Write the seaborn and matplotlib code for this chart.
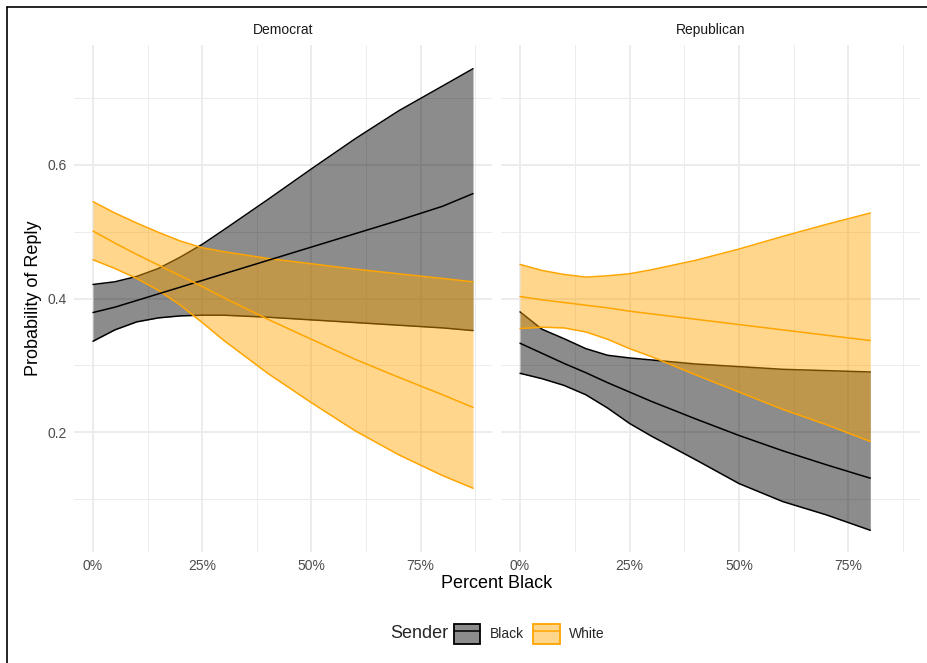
import numpy as np
import pandas as pd
import matplotlib
matplotlib.use("Agg")
import matplotlib.pyplot as plt
import seaborn as sns
from matplotlib.lines import Line2D
from matplotlib.patches import Patch
from matplotlib.ticker import FuncFormatter, MultipleLocator

# Predicted probability of reply by share of Black residents, with 95% bands
dem_pct = [0.0, 0.05, 0.10, 0.15, 0.20, 0.25, 0.30, 0.40, 0.50, 0.60, 0.70, 0.80, 0.87]
dem_black_fit = [0.379, 0.387, 0.397, 0.407, 0.417, 0.427, 0.437, 0.457, 0.477, 0.497, 0.517, 0.538, 0.557]
dem_black_lo = [0.336, 0.353, 0.365, 0.371, 0.374, 0.375, 0.375, 0.372, 0.368, 0.364, 0.360, 0.356, 0.352]
dem_black_hi = [0.421, 0.425, 0.433, 0.445, 0.462, 0.481, 0.503, 0.548, 0.594, 0.639, 0.681, 0.718, 0.744]
dem_white_fit = [0.501, 0.483, 0.466, 0.450, 0.434, 0.418, 0.401, 0.369, 0.339, 0.309, 0.282, 0.256, 0.237]
dem_white_lo = [0.458, 0.445, 0.430, 0.412, 0.390, 0.364, 0.337, 0.288, 0.244, 0.202, 0.166, 0.135, 0.116]
dem_white_hi = [0.545, 0.528, 0.513, 0.499, 0.486, 0.476, 0.470, 0.460, 0.452, 0.444, 0.437, 0.430, 0.425]

rep_pct = [0.0, 0.05, 0.10, 0.15, 0.20, 0.25, 0.30, 0.40, 0.50, 0.60, 0.70, 0.80]
rep_black_fit = [0.333, 0.318, 0.303, 0.289, 0.274, 0.260, 0.246, 0.220, 0.195, 0.172, 0.151, 0.131]
rep_black_lo = [0.288, 0.280, 0.270, 0.256, 0.236, 0.213, 0.194, 0.159, 0.123, 0.096, 0.076, 0.053]
rep_black_hi = [0.380, 0.354, 0.340, 0.325, 0.315, 0.311, 0.308, 0.302, 0.298, 0.294, 0.292, 0.290]
rep_white_fit = [0.403, 0.398, 0.394, 0.390, 0.386, 0.381, 0.377, 0.369, 0.361, 0.353, 0.345, 0.337]
rep_white_lo = [0.355, 0.357, 0.356, 0.350, 0.339, 0.325, 0.313, 0.286, 0.260, 0.234, 0.211, 0.186]
rep_white_hi = [0.451, 0.442, 0.436, 0.432, 0.434, 0.437, 0.443, 0.457, 0.474, 0.493, 0.511, 0.528]

parties = ["Democrat", "Republican"]
senders = ["Black", "White"]
sender_colors = {"Black": "#000000", "White": "#FFA500"}


def block(party, sender, pct, fit, lo, hi):
    return pd.DataFrame({"party": party, "sender": sender, "pct": pct,
                         "fit": fit, "lo": lo, "hi": hi})


df = pd.concat([
    block("Democrat", "Black", dem_pct, dem_black_fit, dem_black_lo, dem_black_hi),
    block("Democrat", "White", dem_pct, dem_white_fit, dem_white_lo, dem_white_hi),
    block("Republican", "Black", rep_pct, rep_black_fit, rep_black_lo, rep_black_hi),
    block("Republican", "White", rep_pct, rep_white_fit, rep_white_lo, rep_white_hi),
], ignore_index=True)

sns.set_theme(style="white")
plt.rcParams["font.family"] = ["Liberation Sans", "DejaVu Sans"]

W, H = 927, 663
fig = plt.figure(figsize=(W / 100, H / 100), dpi=100)


def fx(px):
    return px / W


def fy(py):
    return 1 - py / H


panel_top, panel_bot = 45, 552
boxes = [(74, 492), (501, 920)]
axes = []
for (l, r) in boxes:
    ax = fig.add_axes([fx(l), fy(panel_bot), fx(r - l), (panel_bot - panel_top) / H])
    axes.append(ax)

xlim = (-0.0435, 0.9135)
ylim = (0.0205, 0.7795)

for ax, party in zip(axes, parties):
    sub = df[df["party"] == party]
    # ribbons with outlines first, sender by sender
    for s in senders:
        d = sub[sub["sender"] == s]
        c = sender_colors[s]
        ax.fill_between(d["pct"], d["lo"], d["hi"], color=c, alpha=0.45,
                        linewidth=0, zorder=2)
        ax.plot(d["pct"], d["lo"], color=c, lw=1.1, zorder=2)
        ax.plot(d["pct"], d["hi"], color=c, lw=1.1, zorder=2)
    # fitted lines on top
    sns.lineplot(data=sub, x="pct", y="fit", hue="sender", hue_order=senders,
                 palette=sender_colors, linewidth=1.1, legend=False, ax=ax,
                 zorder=3)

    ax.set_xlim(*xlim)
    ax.set_ylim(*ylim)
    ax.xaxis.set_major_locator(MultipleLocator(0.25))
    ax.xaxis.set_minor_locator(MultipleLocator(0.125))
    ax.yaxis.set_major_locator(MultipleLocator(0.2))
    ax.yaxis.set_minor_locator(MultipleLocator(0.1))
    ax.xaxis.set_major_formatter(FuncFormatter(lambda v, p: f"{v * 100:.0f}%"))
    ax.yaxis.set_major_formatter(FuncFormatter(lambda v, p: f"{v:.1f}"))
    ax.grid(which="major", color="#EBEBEB", linewidth=1.3, zorder=0)
    ax.grid(which="minor", color="#EBEBEB", linewidth=0.65, zorder=0)
    ax.set_axisbelow(True)
    for sp in ax.spines.values():
        sp.set_visible(False)
    ax.tick_params(which="both", length=0, labelsize=10, labelcolor="#4D4D4D",
                   pad=5)
    ax.set_xlabel("")
    ax.set_ylabel("")
    ax.set_title(party, fontsize=10, color="#1A1A1A", pad=8)

axes[1].tick_params(axis="y", labelleft=False)

# shared axis titles
fig.text(fx((74 + 920) / 2), fy(583), "Percent Black", ha="center", va="center",
         fontsize=13, color="#000000")
fig.text(fx(34), fy((panel_top + panel_bot) / 2), "Probability of Reply",
         ha="center", va="center", rotation=90, fontsize=13, color="#000000")

# legend along the bottom
fig.text(fx(390), fy(634), "Sender", ha="left", va="center", fontsize=13)
handles = []
for s in senders:
    c = sender_colors[s]
    handles.append((Patch(facecolor=c, alpha=0.45, edgecolor="none"),
                    Patch(facecolor="none", edgecolor=c, linewidth=1.3),
                    Line2D([], [], color=c, lw=1.1)))
leg = fig.legend(handles, senders, loc="center left",
                 bbox_to_anchor=(fx(454), fy(634)), ncol=2, frameon=False,
                 fontsize=10, handlelength=1.9, handleheight=1.85,
                 handletextpad=0.65, columnspacing=0.7, borderpad=0,
                 borderaxespad=0)

# frame around the figure
fig.add_artist(Line2D([fx(7), 1], [fy(7), fy(7)], color="#000000", lw=1.2))
fig.add_artist(Line2D([fx(7), fx(7)], [fy(7), 0], color="#000000", lw=1.2))

fig.savefig("out.png", dpi=100)
